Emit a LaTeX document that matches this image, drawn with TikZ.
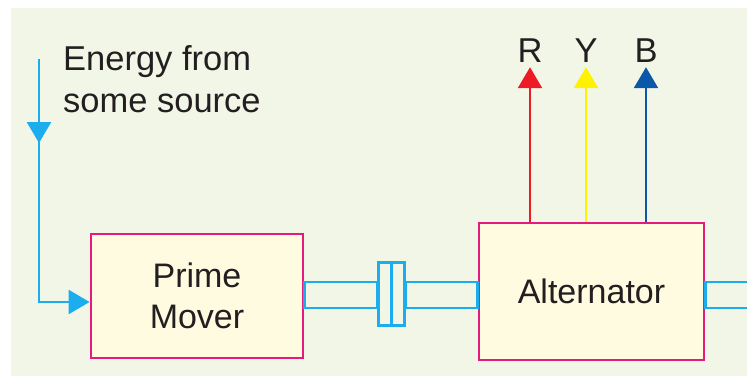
\documentclass[tikz,border=0pt]{standalone}
\usepackage{fontspec}
\setmainfont{Liberation Sans}
\usetikzlibrary{arrows.meta}
\definecolor{bggreen}{HTML}{F2F6E7}
\definecolor{boxfill}{HTML}{FEFBE0}
\definecolor{boxline}{HTML}{E6197E}
\definecolor{shaftblue}{HTML}{1BADEE}
\definecolor{rphase}{HTML}{ED1C24}
\definecolor{yphase}{HTML}{FFF200}
\definecolor{bphase}{HTML}{0B57A8}
\definecolor{ink}{HTML}{231F20}
\begin{document}
\begin{tikzpicture}[x=1pt,y=-1pt,
  block/.style={draw=boxline, fill=boxfill, line width=2.8pt, inner sep=0pt, text=ink, font=\fontsize{34}{41}\selectfont, align=center},
  shaft/.style={draw=shaftblue, line width=2.5pt},
  feed/.style={line width=2.5pt, -{Triangle[length=21pt,width=24pt]}},
  lbl/.style={font=\fontsize{34.5}{42}\selectfont, text=ink, inner sep=0pt}]
\useasboundingbox (0,0) rectangle (747,376);
\fill [bggreen] (11,8) rectangle (747,376);
\node (pm) [block, minimum width=212pt, minimum height=124pt] at (197,296) {Prime\\Mover};
\node (alt) [block, minimum width=225pt, minimum height=137pt] at (591.5,291.5) {Alternator};
\node (cplA) [shaft, minimum width=13pt, minimum height=63pt, inner sep=0pt] at (385,294) {};
\node (cplB) [shaft, minimum width=13pt, minimum height=63pt, inner sep=0pt] at (398,294) {};
\draw [shaft] (pm.east |- 0,282) rectangle (cplA.west |- 0,308);
\draw [shaft] (cplB.east |- 0,282) rectangle (alt.west |- 0,308);
\draw [shaft] (alt.east |- 0,282) rectangle (770,308);
\node (src) [lbl, align=left, anchor=north west] at (63,45) {Energy from\\some source};
\coordinate (srctop) at (39,59);
\coordinate (srcbend) at (39,302);
\draw [feed, shaftblue] (srctop) -- (39,143);
\draw [feed, shaftblue] (39,140) -- (srcbend) -- (pm.west |- srcbend);
\node (R) [lbl, anchor=base] at (530,62) {R};
\node (Y) [lbl, anchor=base] at (586,62) {Y};
\node (B) [lbl, anchor=base] at (646,62) {B};
\draw [feed, rphase] (alt.north -| R) -- ([yshift=-5pt]R.south);
\draw [feed, yphase] (alt.north -| Y) -- ([yshift=-5pt]Y.south);
\draw [feed, bphase] (alt.north -| B) -- ([yshift=-5pt]B.south);
\end{tikzpicture}
\end{document}
